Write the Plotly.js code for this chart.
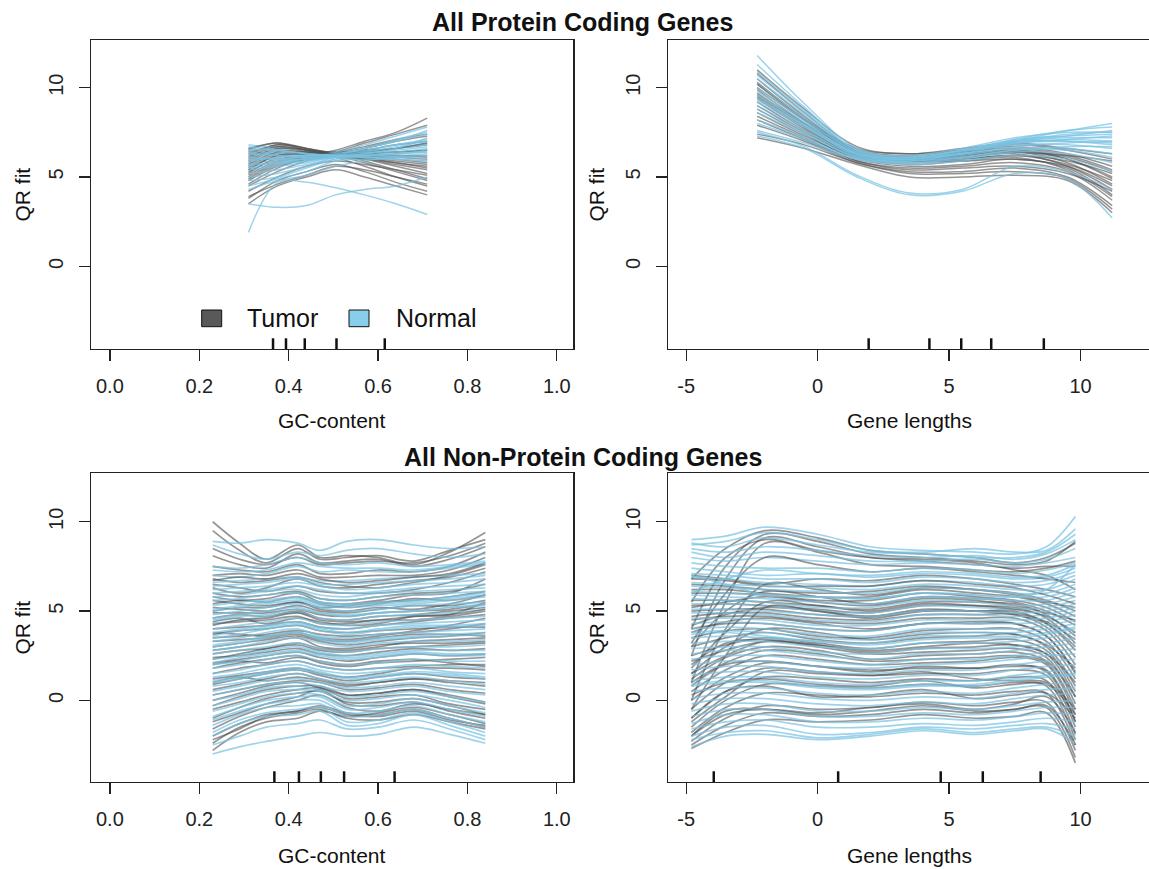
<!DOCTYPE html>
<html>
<head>
<meta charset="utf-8">
<script src="https://cdn.plot.ly/plotly-3.0.1.min.js"></script>
<style>html,body{margin:0;padding:0;background:#fff;}#chart{width:1149px;height:869px;}</style>
</head>
<body>
<div id="chart"></div>
<script>
// ---------------- data ----------------
const groups = ['Tumor', 'Normal'];
const gcTickVals = [0, 0.2, 0.4, 0.6, 0.8, 1.0];
const gcTickText = ['0.0', '0.2', '0.4', '0.6', '0.8', '1.0'];
const lenTickVals = [-5, 0, 5, 10];
const yTickVals = [0, 5, 10];

// Protein coding, GC-content
const pcGcX = [0.31, 0.375, 0.44, 0.505, 0.57, 0.64, 0.71];
const pcGcTumor = [
  [6.5, 6.9, 6.5, 6.3, 6.0, 5.6, 5.2],
  [6.2, 6.8, 6.6, 6.3, 6.1, 5.8, 5.6],
  [6.0, 6.6, 6.4, 6.2, 6.2, 6.1, 6.0],
  [5.8, 6.5, 6.3, 6.2, 6.3, 6.4, 6.5],
  [5.5, 6.2, 6.3, 6.4, 6.7, 7.1, 7.4],
  [5.3, 6.0, 6.2, 6.5, 7.0, 7.5, 8.3],
  [5.0, 5.8, 6.1, 6.4, 6.9, 7.4, 7.9],
  [4.8, 5.6, 6.0, 6.3, 6.5, 6.8, 7.0],
  [4.5, 5.3, 5.9, 6.2, 6.3, 6.4, 6.5],
  [4.2, 5.0, 5.6, 5.9, 5.7, 5.4, 5.1],
  [3.9, 4.6, 5.1, 5.6, 5.4, 5.0, 4.6],
  [3.5, 4.5, 5.0, 5.4, 5.0, 4.5, 4.0],
  [3.8, 4.8, 5.3, 5.7, 5.3, 4.7, 4.2],
  [6.4, 6.7, 6.5, 6.1, 5.6, 5.0, 4.5],
  [5.6, 6.3, 6.4, 6.3, 6.1, 5.9, 5.7],
  [5.2, 6.1, 6.3, 6.3, 6.3, 6.2, 6.1],
  [6.3, 6.8, 6.6, 6.3, 5.9, 5.4, 4.9],
  [5.9, 6.6, 6.5, 6.4, 6.5, 6.6, 6.8],
  [4.6, 5.5, 6.0, 6.1, 6.0, 5.8, 5.5],
  [5.1, 5.9, 6.1, 6.2, 6.2, 6.0, 5.8],
  [4.9, 5.7, 6.0, 6.3, 6.6, 7.0, 7.3],
  [6.6, 6.9, 6.6, 6.2, 5.8, 5.3, 4.8],
  [5.7, 6.4, 6.4, 6.2, 6.0, 5.7, 5.4],
  [6.1, 6.7, 6.5, 6.3, 6.3, 6.2, 6.2],
  [5.4, 6.2, 6.3, 6.3, 6.4, 6.6, 6.9]
];
const pcGcNormal = [
  [6.8, 6.6, 6.3, 6.3, 6.5, 6.8, 7.0],
  [6.6, 6.4, 6.2, 6.3, 6.6, 7.1, 7.5],
  [6.4, 6.3, 6.2, 6.4, 6.8, 7.3, 7.8],
  [6.2, 6.2, 6.1, 6.2, 6.4, 6.6, 6.8],
  [6.0, 6.0, 6.1, 6.3, 6.5, 6.8, 7.1],
  [5.8, 5.9, 6.0, 6.2, 6.3, 6.4, 6.6],
  [5.6, 5.8, 6.0, 6.2, 6.4, 6.6, 6.9],
  [5.4, 5.6, 5.8, 6.1, 6.2, 6.2, 6.3],
  [5.2, 5.4, 5.7, 6.0, 6.1, 6.1, 6.0],
  [5.0, 5.2, 5.6, 6.1, 6.3, 6.6, 7.2],
  [4.8, 5.0, 5.5, 6.0, 6.2, 6.3, 6.4],
  [4.5, 4.9, 5.3, 5.9, 6.0, 6.0, 5.9],
  [1.9, 4.7, 4.7, 4.4, 4.0, 3.5, 2.9],
  [3.5, 3.3, 3.4, 4.0, 4.3, 4.5, 5.0],
  [6.5, 6.5, 6.3, 6.2, 6.2, 6.3, 6.4],
  [6.7, 6.5, 6.3, 6.2, 6.1, 6.0, 5.9],
  [5.9, 6.1, 6.2, 6.3, 6.6, 7.0, 7.4],
  [4.3, 4.8, 5.1, 5.6, 5.9, 6.1, 6.2],
  [5.5, 5.7, 5.9, 6.2, 6.6, 7.0, 7.6],
  [6.1, 6.0, 6.0, 6.1, 6.2, 6.3, 6.5],
  [6.3, 6.2, 6.1, 6.2, 6.4, 6.7, 7.0],
  [5.7, 5.8, 5.9, 6.1, 6.3, 6.5, 6.7]
];
const pcGcRug = [0.365, 0.394, 0.436, 0.507, 0.615];

// Protein coding, gene lengths
const pcLenX = [-2.3, -0.5, 1.5, 3.5, 5.5, 7.5, 9.5, 11.2];
const pcLenTumor = [
  [10.8, 8.6, 6.5, 6.1, 6.3, 6.5, 6.0, 4.9],
  [10.3, 8.3, 6.4, 6.0, 6.2, 6.4, 5.8, 4.6],
  [9.9, 8.0, 6.3, 6.0, 6.1, 6.3, 5.6, 4.3],
  [9.5, 7.8, 6.2, 5.9, 6.0, 6.2, 5.7, 4.8],
  [9.2, 7.6, 6.1, 5.8, 6.0, 6.2, 5.9, 5.2],
  [8.8, 7.4, 6.0, 5.6, 5.7, 6.0, 5.5, 4.0],
  [8.4, 7.2, 5.9, 5.5, 5.6, 5.8, 5.3, 3.7],
  [7.9, 7.0, 5.8, 5.3, 5.3, 5.5, 5.0, 3.4],
  [7.4, 6.8, 5.8, 5.2, 5.2, 5.3, 4.9, 3.2],
  [10.0, 8.2, 6.6, 6.3, 6.5, 6.7, 6.3, 5.6],
  [9.7, 8.0, 6.5, 6.2, 6.5, 6.8, 6.5, 6.0],
  [11.0, 8.8, 6.7, 6.3, 6.6, 6.9, 6.6, 6.3],
  [9.0, 7.5, 6.2, 5.9, 6.1, 6.4, 6.2, 5.9],
  [8.6, 7.3, 6.1, 5.7, 5.9, 6.1, 5.4, 3.9],
  [7.2, 6.6, 5.7, 5.0, 5.0, 5.1, 4.8, 3.0],
  [9.4, 7.7, 6.2, 5.9, 6.2, 6.5, 6.1, 5.3],
  [10.5, 8.4, 6.4, 5.9, 5.9, 6.0, 5.6, 4.5],
  [8.2, 7.1, 5.9, 5.4, 5.5, 5.6, 5.2, 4.2],
  [9.6, 7.9, 6.3, 6.0, 6.2, 6.4, 6.0, 5.0],
  [10.2, 8.2, 6.4, 6.1, 6.4, 6.6, 6.2, 5.4]
];
const pcLenNormal = [
  [11.8, 9.1, 6.6, 6.1, 6.4, 7.0, 7.6, 8.0],
  [11.3, 8.9, 6.5, 6.1, 6.4, 7.1, 7.6, 7.8],
  [10.7, 8.6, 6.5, 6.2, 6.6, 7.2, 7.5, 7.5],
  [10.2, 8.3, 6.4, 6.1, 6.5, 7.0, 7.2, 7.2],
  [9.8, 8.1, 6.3, 6.0, 6.4, 6.9, 7.0, 6.9],
  [9.4, 7.9, 6.2, 6.0, 6.3, 6.8, 6.8, 6.6],
  [9.0, 7.6, 6.2, 5.9, 6.2, 6.6, 6.6, 6.3],
  [8.6, 7.4, 6.1, 5.8, 6.1, 6.5, 6.5, 6.1],
  [8.2, 7.2, 6.0, 5.8, 6.0, 6.4, 6.3, 5.8],
  [7.6, 6.9, 6.0, 5.9, 6.1, 6.5, 6.7, 6.7],
  [7.3, 6.6, 5.0, 4.0, 4.2, 5.2, 4.9, 2.7],
  [7.5, 6.7, 5.1, 4.1, 4.3, 5.6, 5.3, 4.3],
  [9.6, 8.0, 6.3, 6.0, 6.5, 7.1, 7.3, 7.4],
  [10.5, 8.5, 6.4, 6.0, 6.3, 6.7, 6.9, 7.0],
  [8.8, 7.5, 6.1, 5.9, 6.3, 6.9, 7.1, 7.3],
  [9.2, 7.8, 6.3, 6.1, 6.5, 7.0, 7.3, 7.6],
  [8.0, 7.1, 6.0, 5.7, 5.9, 6.2, 6.0, 5.3],
  [10.0, 8.2, 6.4, 6.1, 6.5, 7.0, 7.0, 6.8],
  [9.3, 7.9, 6.3, 6.0, 6.4, 6.9, 7.1, 7.0],
  [10.9, 8.7, 6.5, 6.1, 6.5, 7.0, 7.4, 7.5]
];
const pcLenRug = [1.94, 4.25, 5.46, 6.6, 8.6];

// Non-protein coding, GC-content
const ncGcX = [0.23, 0.29, 0.35, 0.42, 0.47, 0.53, 0.60, 0.68, 0.76, 0.84];
const ncGcTumor = [
  [10.0, 8.8, 7.9, 8.7, 8.0, 8.1, 8.0, 7.6, 8.3, 9.4],
  [9.5, 8.4, 7.7, 8.5, 7.9, 8.0, 8.1, 7.8, 8.4, 9.0],
  [8.1, 7.6, 7.4, 8.2, 7.7, 7.8, 7.9, 7.5, 7.9, 8.6],
  [7.0, 7.1, 7.0, 7.3, 6.9, 6.9, 7.0, 7.0, 7.3, 8.0],
  [6.8, 6.6, 6.7, 6.9, 6.6, 6.4, 6.3, 6.6, 7.0, 7.6],
  [6.5, 6.3, 6.1, 6.4, 6.1, 6.0, 6.0, 6.2, 6.6, 7.2],
  [6.0, 5.8, 5.9, 6.1, 5.7, 5.6, 5.8, 6.0, 6.1, 6.5],
  [5.6, 5.4, 5.3, 5.5, 5.2, 5.3, 5.5, 5.6, 5.8, 6.1],
  [5.2, 5.1, 5.0, 5.3, 5.0, 4.9, 5.1, 5.3, 5.3, 5.6],
  [4.6, 4.8, 4.7, 5.0, 4.6, 4.5, 4.7, 4.8, 5.0, 5.2],
  [4.0, 4.1, 4.2, 4.4, 4.1, 4.0, 4.2, 4.4, 4.6, 4.8],
  [3.5, 3.6, 3.7, 3.9, 3.7, 3.6, 3.7, 3.8, 4.0, 4.3],
  [3.0, 3.2, 3.4, 3.6, 3.3, 3.1, 3.3, 3.5, 3.6, 3.8],
  [2.6, 2.8, 2.9, 3.1, 2.8, 2.7, 2.9, 3.0, 3.1, 3.2],
  [2.1, 2.3, 2.5, 2.7, 2.4, 2.2, 2.4, 2.6, 2.5, 2.6],
  [1.5, 1.8, 2.0, 2.2, 1.9, 1.7, 1.8, 1.9, 2.0, 2.0],
  [0.9, 1.2, 1.5, 1.7, 1.4, 1.1, 1.3, 1.5, 1.3, 1.2],
  [0.3, 0.6, 0.9, 1.1, 1.0, 0.6, 0.7, 0.9, 0.6, 0.4],
  [-0.5, -0.1, 0.3, 0.6, 0.7, 0.1, 0.2, 0.3, -0.2, -0.5],
  [-1.2, -0.7, -0.2, 0.2, 0.6, -0.2, -0.3, -0.1, -0.6, -1.0],
  [-2.0, -1.3, -0.8, -0.6, -0.3, -0.7, -0.8, -0.5, -1.0, -1.5],
  [-2.8, -1.8, -1.2, -1.0, -0.6, -0.9, -0.7, -0.4, -0.8, -1.3],
  [5.4, 5.6, 5.5, 5.8, 5.4, 5.2, 5.4, 5.7, 5.6, 5.9],
  [4.3, 4.4, 4.5, 4.7, 4.3, 4.3, 4.5, 4.5, 4.7, 5.0],
  [2.3, 2.6, 2.9, 3.2, 2.9, 2.8, 3.0, 3.3, 3.4, 3.5],
  [3.8, 3.7, 3.6, 3.8, 3.5, 3.4, 3.6, 3.9, 4.2, 4.6],
  [1.2, 1.4, 1.6, 1.8, 1.5, 1.3, 1.5, 1.8, 1.8, 1.7],
  [-1.6, -0.9, -0.4, 0.0, 0.3, -0.4, -0.6, -0.2, -0.5, -0.8],
  [6.3, 6.0, 6.3, 6.8, 6.4, 6.3, 6.5, 6.7, 6.9, 7.4],
  [8.5, 7.9, 7.6, 8.0, 7.6, 7.7, 7.8, 7.7, 8.1, 8.8],
  [0.0, 0.4, 0.8, 1.0, 0.7, 0.3, 0.4, 0.6, 0.3, -0.1],
  [2.8, 3.0, 3.2, 3.5, 3.0, 2.9, 3.1, 3.2, 3.2, 3.3],
  [4.9, 4.9, 4.9, 5.1, 4.8, 4.7, 4.9, 5.0, 5.1, 5.4],
  [-2.4, -1.5, -1.0, -0.7, -0.5, -1.0, -1.1, -0.8, -1.2, -1.6],
  [7.5, 7.3, 7.2, 7.6, 7.1, 7.1, 7.3, 7.2, 7.5, 8.3],
  [5.8, 5.6, 5.7, 6.0, 5.5, 5.4, 5.6, 5.9, 6.0, 6.8],
  [5.0, 5.2, 5.2, 5.5, 5.1, 5.0, 5.2, 5.1, 5.4, 5.9],
  [4.4, 4.6, 4.3, 4.6, 4.4, 4.2, 4.3, 4.7, 4.8, 5.5],
  [3.7, 3.9, 4.0, 4.2, 3.9, 3.8, 3.9, 4.0, 4.1, 4.1],
  [3.3, 3.4, 3.5, 3.7, 3.4, 3.3, 3.5, 3.7, 3.7, 3.6],
  [2.4, 2.5, 2.7, 2.9, 2.6, 2.5, 2.7, 2.9, 2.8, 2.9],
  [1.8, 2.1, 2.3, 2.5, 2.1, 1.9, 2.1, 2.2, 2.3, 2.4],
  [0.6, 0.9, 1.2, 1.5, 1.2, 0.9, 1.0, 1.2, 1.0, 0.8],
  [-0.3, 0.2, 0.6, 0.8, 0.8, 0.3, 0.4, 0.6, 0.2, -0.2],
  [-1.0, -0.4, 0.1, 0.4, 0.5, -0.1, -0.1, 0.1, -0.3, -0.8],
  [-2.2, -1.6, -0.9, -0.6, -0.4, -0.8, -0.9, -0.6, -1.1, -1.4],
  [6.7, 6.9, 6.8, 7.1, 6.8, 6.6, 6.7, 6.9, 7.1, 7.7],
  [2.0, 2.2, 2.1, 2.4, 2.2, 2.0, 2.2, 2.3, 2.1, 1.9],
  [4.2, 4.5, 4.6, 4.9, 4.5, 4.4, 4.5, 4.7, 4.8, 5.1],
  [1.0, 1.3, 1.1, 1.3, 1.1, 0.8, 1.0, 1.2, 1.1, 1.0]
];
const ncGcNormal = [
  [8.9, 8.8, 9.0, 8.8, 8.4, 8.9, 9.0, 8.7, 8.5, 8.6],
  [8.7, 8.2, 7.9, 8.3, 8.1, 8.4, 8.5, 8.2, 8.0, 8.2],
  [7.0, 6.9, 7.1, 7.5, 7.2, 7.3, 7.2, 7.2, 7.4, 7.6],
  [6.6, 6.7, 6.8, 6.9, 6.7, 6.7, 6.8, 6.9, 7.0, 7.1],
  [6.2, 6.3, 6.4, 6.6, 6.4, 6.2, 6.3, 6.5, 6.6, 6.8],
  [5.8, 5.9, 6.1, 6.2, 5.9, 5.8, 6.0, 6.1, 6.2, 6.3],
  [5.3, 5.5, 5.6, 5.8, 5.5, 5.4, 5.5, 5.6, 5.8, 6.0],
  [4.8, 5.0, 5.2, 5.4, 5.2, 5.0, 5.1, 5.3, 5.4, 5.5],
  [4.3, 4.5, 4.7, 4.9, 4.6, 4.5, 4.7, 4.8, 4.9, 5.1],
  [3.8, 4.0, 4.2, 4.4, 4.1, 4.0, 4.2, 4.3, 4.4, 4.5],
  [3.3, 3.5, 3.8, 4.0, 3.6, 3.5, 3.7, 3.8, 3.9, 4.0],
  [2.8, 3.0, 3.3, 3.5, 3.2, 3.0, 3.2, 3.3, 3.3, 3.4],
  [2.3, 2.5, 2.8, 3.0, 2.7, 2.5, 2.6, 2.8, 2.8, 2.8],
  [1.8, 2.0, 2.3, 2.5, 2.2, 2.0, 2.1, 2.3, 2.2, 2.2],
  [1.3, 1.5, 1.8, 2.0, 1.7, 1.5, 1.6, 1.8, 1.6, 1.5],
  [0.8, 1.0, 1.3, 1.5, 1.2, 1.0, 1.1, 1.3, 1.1, 0.9],
  [0.3, 0.6, 0.9, 1.0, 0.8, 0.5, 0.6, 0.8, 0.5, 0.3],
  [-0.3, 0.1, 0.5, 0.6, 0.5, 0.0, 0.1, 0.3, 0.0, -0.4],
  [-0.9, -0.4, 0.0, 0.2, 0.2, -0.5, -0.4, -0.1, -0.5, -0.9],
  [-1.4, -0.8, -0.4, -0.3, -0.2, -0.9, -0.8, -0.5, -1.0, -1.5],
  [-2.0, -1.3, -0.9, -0.8, -0.6, -1.4, -1.3, -0.8, -1.4, -2.0],
  [-3.0, -2.6, -2.3, -2.0, -1.8, -2.0, -1.9, -1.5, -1.9, -2.4],
  [4.5, 4.7, 4.8, 5.1, 4.9, 4.8, 4.9, 5.0, 5.2, 5.3],
  [3.5, 3.7, 4.0, 4.2, 3.9, 3.7, 3.9, 4.1, 4.1, 4.2],
  [2.0, 2.2, 2.5, 2.7, 2.5, 2.3, 2.4, 2.6, 2.5, 2.5],
  [1.0, 1.2, 1.5, 1.7, 1.5, 1.2, 1.3, 1.5, 1.4, 1.2],
  [6.0, 6.1, 6.2, 6.4, 6.2, 6.0, 6.1, 6.3, 6.4, 6.5],
  [5.0, 5.2, 5.4, 5.6, 5.3, 5.2, 5.3, 5.4, 5.6, 5.8],
  [0.0, 0.3, 0.7, 0.8, 0.6, 0.2, 0.3, 0.5, 0.2, -0.1],
  [-1.8, -1.1, -0.7, -0.5, -0.4, -1.2, -1.1, -0.7, -1.2, -1.8],
  [7.5, 7.4, 7.6, 8.0, 7.7, 7.6, 7.7, 7.5, 7.6, 7.8],
  [3.0, 3.2, 3.5, 3.8, 3.4, 3.2, 3.4, 3.5, 3.6, 3.7],
  [7.3, 7.2, 7.3, 7.7, 7.5, 7.4, 7.4, 7.3, 7.5, 7.7],
  [6.4, 6.5, 6.6, 6.8, 6.5, 6.5, 6.6, 6.7, 6.8, 7.0],
  [5.6, 5.7, 5.9, 6.0, 5.7, 5.6, 5.8, 5.9, 6.0, 6.1],
  [4.6, 4.8, 5.0, 5.2, 4.9, 4.7, 4.9, 5.0, 5.2, 5.4],
  [4.0, 4.2, 4.4, 4.6, 4.3, 4.2, 4.4, 4.5, 4.6, 4.7],
  [3.1, 3.3, 3.6, 3.8, 3.5, 3.3, 3.5, 3.6, 3.7, 3.8],
  [2.6, 2.8, 3.0, 3.2, 2.9, 2.7, 2.9, 3.0, 3.0, 3.1],
  [1.5, 1.7, 2.0, 2.2, 1.9, 1.7, 1.8, 2.0, 1.9, 1.8],
  [0.5, 0.8, 1.1, 1.2, 1.0, 0.7, 0.8, 1.0, 0.8, 0.6],
  [-0.6, -0.2, 0.2, 0.4, 0.3, -0.3, -0.2, 0.1, -0.3, -0.7],
  [-1.1, -0.6, -0.2, 0.0, 0.0, -0.7, -0.6, -0.3, -0.8, -1.2],
  [-2.5, -2.0, -1.5, -1.3, -1.1, -1.6, -1.5, -1.1, -1.6, -2.2],
  [2.1, 2.4, 2.6, 2.8, 2.6, 2.4, 2.5, 2.7, 2.6, 2.6],
  [3.6, 3.9, 4.1, 4.3, 4.0, 3.8, 4.0, 4.2, 4.2, 4.3],
  [5.1, 5.3, 5.5, 5.7, 5.4, 5.3, 5.4, 5.5, 5.7, 5.9],
  [1.1, 1.3, 1.6, 1.8, 1.6, 1.3, 1.4, 1.6, 1.5, 1.3]
];
const ncGcRug = [0.368, 0.423, 0.472, 0.524, 0.637];

// Non-protein coding, gene lengths
const ncLenX = [-4.8, -3.5, -2.0, 0.0, 2.0, 4.0, 6.0, 7.5, 8.7, 9.8];
const ncLenTumor = [
  [4.0, 7.5, 9.3, 8.9, 8.2, 8.0, 7.8, 7.6, 7.8, 8.9],
  [2.5, 6.8, 9.1, 8.6, 8.0, 7.8, 7.6, 7.4, 7.5, 7.5],
  [5.5, 8.0, 9.0, 8.4, 8.0, 7.9, 7.7, 7.3, 7.0, 6.2],
  [1.0, 5.5, 8.8, 8.3, 7.6, 7.5, 7.3, 7.2, 7.4, 7.8],
  [7.0, 6.8, 6.5, 6.8, 6.7, 7.0, 6.8, 6.5, 6.2, 5.8],
  [6.5, 6.4, 6.2, 6.0, 6.1, 6.4, 6.2, 6.0, 5.6, 5.0],
  [6.0, 6.0, 5.9, 5.6, 5.6, 6.0, 5.8, 5.6, 5.2, 4.4],
  [5.6, 5.6, 5.5, 5.3, 5.1, 5.5, 5.5, 5.4, 4.8, 3.6],
  [5.0, 5.1, 5.1, 4.8, 4.7, 5.1, 5.0, 5.0, 4.3, 2.8],
  [4.5, 4.7, 4.7, 4.4, 4.3, 4.6, 4.6, 4.6, 3.9, 2.0],
  [3.5, 3.9, 4.0, 3.6, 3.5, 3.9, 4.0, 4.0, 3.3, 1.2],
  [2.5, 3.1, 3.5, 3.2, 2.9, 3.2, 3.3, 3.4, 2.8, 0.5],
  [1.5, 2.5, 3.3, 3.0, 2.6, 2.7, 2.8, 2.9, 2.4, -0.2],
  [0.5, 1.7, 2.5, 2.3, 2.0, 2.1, 2.2, 2.4, 2.0, -0.8],
  [-0.5, 1.0, 1.8, 1.6, 1.4, 1.5, 1.5, 1.7, 1.4, -1.5],
  [-1.5, 0.0, 0.9, 0.8, 0.7, 0.9, 0.8, 1.0, 0.8, -2.2],
  [-2.3, -1.0, -0.3, -0.5, -0.4, -0.1, -0.3, -0.1, -0.1, -2.8],
  [-2.7, -1.8, -1.1, -1.2, -1.1, -0.8, -1.0, -0.9, -0.7, -3.5],
  [-2.0, -0.6, -0.5, -0.8, -0.6, -0.3, -0.6, -0.5, -0.3, -2.5],
  [2.0, 3.2, 3.4, 3.1, 2.8, 3.0, 3.2, 3.1, 2.6, 1.0],
  [3.0, 5.0, 6.1, 5.8, 5.4, 5.8, 5.7, 5.5, 5.0, 4.2],
  [0.0, 4.0, 6.5, 6.2, 5.9, 6.3, 6.2, 5.9, 5.5, 5.2],
  [-1.0, 0.5, 0.8, 0.2, 0.3, 0.6, 0.1, 0.3, 0.4, -1.0],
  [1.2, 2.4, 3.0, 2.8, 2.3, 2.5, 2.6, 2.7, 2.2, 0.2],
  [-2.0, -0.8, -0.5, -0.7, -0.4, -0.2, -0.5, -0.2, 0.2, -1.8],
  [1.5, 3.0, 4.0, 3.8, 3.4, 3.7, 3.8, 3.7, 3.1, 1.8],
  [6.8, 8.5, 9.5, 9.1, 8.4, 8.2, 8.0, 7.7, 8.0, 8.8],
  [3.8, 4.4, 4.6, 4.3, 4.0, 4.3, 4.4, 4.3, 3.6, 1.5],
  [-1.2, 0.2, 1.6, 1.5, 1.4, 1.6, 1.2, 1.1, 1.0, -0.5],
  [4.2, 4.8, 5.2, 5.0, 4.6, 5.0, 5.0, 4.8, 4.3, 3.0],
  [0.8, 2.0, 2.2, 1.9, 1.6, 1.9, 1.8, 1.9, 1.7, -1.2],
  [5.2, 5.5, 5.8, 5.5, 5.3, 5.7, 5.6, 5.3, 4.9, 4.5],
  [6.2, 6.2, 6.0, 5.8, 5.8, 6.2, 6.0, 5.8, 5.4, 4.7],
  [5.3, 5.4, 5.3, 5.1, 4.9, 5.3, 5.3, 5.2, 4.6, 3.2],
  [4.7, 4.9, 4.9, 4.6, 4.5, 4.8, 4.8, 4.8, 4.1, 2.4],
  [4.0, 4.3, 4.3, 4.0, 3.9, 4.3, 4.3, 4.3, 3.6, 1.6],
  [3.0, 3.5, 3.8, 3.4, 3.2, 3.5, 3.6, 3.7, 3.0, 0.8],
  [2.2, 2.8, 3.3, 3.1, 2.7, 2.9, 3.0, 3.1, 2.6, 0.2],
  [1.0, 2.1, 2.8, 2.6, 2.2, 2.3, 2.4, 2.5, 2.1, -0.5],
  [0.0, 1.3, 2.1, 1.9, 1.7, 1.8, 1.8, 2.0, 1.6, -1.2],
  [-1.0, 0.5, 1.3, 1.2, 1.0, 1.2, 1.1, 1.3, 1.1, -1.9],
  [-1.8, -0.4, 0.4, 0.3, 0.2, 0.4, 0.3, 0.5, 0.4, -2.5],
  [-2.5, -1.4, -0.7, -0.9, -0.8, -0.5, -0.7, -0.5, -0.4, -3.2],
  [-0.5, 2.5, 5.2, 5.0, 4.7, 5.0, 5.0, 4.9, 4.4, 3.4],
  [3.2, 6.0, 8.0, 7.6, 7.2, 7.4, 7.2, 7.0, 6.8, 6.6],
  [1.8, 3.8, 5.5, 5.3, 5.0, 5.4, 5.3, 5.1, 4.7, 3.8],
  [6.8, 6.7, 6.4, 6.4, 6.4, 6.7, 6.5, 6.3, 5.9, 5.4],
  [0.3, 1.0, 1.2, 0.9, 0.8, 1.1, 0.7, 0.9, 0.9, -0.8]
];
const ncLenNormal = [
  [9.0, 9.2, 9.7, 9.3, 8.6, 8.4, 8.3, 8.2, 8.6, 10.3],
  [8.7, 8.9, 9.4, 9.0, 8.4, 8.3, 8.5, 8.3, 8.4, 9.6],
  [8.5, 8.3, 8.6, 8.4, 8.1, 8.0, 8.1, 7.9, 8.2, 9.0],
  [8.0, 7.8, 8.0, 7.8, 7.6, 7.7, 7.6, 7.5, 7.7, 8.0],
  [7.4, 7.2, 7.0, 7.1, 6.9, 7.1, 7.0, 6.8, 6.9, 7.4],
  [6.9, 6.8, 6.6, 6.5, 6.4, 6.7, 6.6, 6.4, 6.5, 7.0],
  [6.4, 6.3, 6.2, 6.1, 6.0, 6.3, 6.2, 6.0, 6.0, 6.5],
  [5.9, 5.8, 5.7, 5.5, 5.4, 5.8, 5.7, 5.6, 5.6, 6.1],
  [5.4, 5.4, 5.3, 5.0, 4.9, 5.3, 5.2, 5.1, 5.2, 5.6],
  [4.9, 4.9, 4.8, 4.5, 4.4, 4.8, 4.8, 4.7, 4.8, 5.2],
  [4.3, 4.4, 4.3, 4.0, 3.9, 4.3, 4.3, 4.3, 4.4, 4.8],
  [3.8, 3.9, 3.8, 3.5, 3.4, 3.8, 3.8, 3.8, 4.0, 4.3],
  [3.2, 3.3, 3.3, 3.0, 2.9, 3.2, 3.2, 3.3, 3.5, 3.8],
  [2.6, 2.8, 2.8, 2.5, 2.3, 2.6, 2.6, 2.8, 3.0, 3.2],
  [2.0, 2.2, 2.2, 1.9, 1.8, 2.0, 2.1, 2.3, 2.5, 2.6],
  [1.4, 1.6, 1.6, 1.3, 1.2, 1.4, 1.4, 1.7, 1.9, 2.0],
  [0.8, 1.0, 1.0, 0.7, 0.6, 0.8, 0.8, 1.1, 1.3, 1.4],
  [0.1, 0.4, 0.4, 0.1, 0.0, 0.2, 0.1, 0.4, 0.6, 0.7],
  [-0.6, -0.2, -0.2, -0.6, -0.6, -0.4, -0.5, -0.3, -0.1, 0.0],
  [-1.3, -0.8, -0.8, -1.2, -1.2, -1.0, -1.1, -0.9, -0.7, -0.8],
  [-2.0, -1.5, -1.4, -1.9, -1.8, -1.5, -1.6, -1.4, -1.3, -1.6],
  [-2.6, -2.0, -1.9, -2.2, -2.0, -1.7, -1.9, -1.7, -1.6, -2.4],
  [7.0, 6.5, 5.9, 5.8, 5.7, 6.0, 5.9, 5.8, 6.2, 7.6],
  [4.6, 4.6, 4.5, 4.2, 4.2, 4.5, 4.5, 4.5, 4.6, 5.0],
  [3.5, 3.6, 3.5, 3.3, 3.1, 3.4, 3.5, 3.5, 3.7, 4.0],
  [2.3, 2.5, 2.5, 2.2, 2.0, 2.3, 2.3, 2.5, 2.7, 2.9],
  [1.1, 1.3, 1.3, 1.0, 0.9, 1.1, 1.1, 1.4, 1.6, 1.7],
  [-0.2, 0.1, 0.1, -0.2, -0.3, -0.1, -0.2, 0.1, 0.3, 0.4],
  [5.7, 5.6, 5.5, 5.2, 5.2, 5.6, 5.5, 5.3, 5.4, 5.8],
  [8.8, 8.6, 9.1, 8.7, 8.3, 8.2, 8.0, 8.0, 8.3, 9.3],
  [8.3, 8.0, 8.3, 8.1, 7.8, 7.8, 7.9, 7.7, 7.9, 8.5],
  [7.7, 7.5, 7.4, 7.4, 7.2, 7.4, 7.3, 7.1, 7.3, 7.7],
  [7.1, 7.0, 6.8, 6.8, 6.6, 6.9, 6.8, 6.6, 6.7, 7.2],
  [6.6, 6.5, 6.4, 6.3, 6.2, 6.5, 6.4, 6.2, 6.2, 6.8],
  [6.1, 6.0, 5.9, 5.8, 5.7, 6.0, 5.9, 5.8, 5.8, 6.3],
  [5.1, 5.1, 5.0, 4.8, 4.7, 5.0, 5.0, 4.9, 5.0, 5.4],
  [4.0, 4.1, 4.0, 3.7, 3.6, 4.0, 4.0, 4.0, 4.2, 4.5],
  [2.9, 3.0, 3.0, 2.7, 2.6, 2.9, 2.9, 3.0, 3.2, 3.5],
  [1.7, 1.9, 1.9, 1.6, 1.5, 1.7, 1.7, 2.0, 2.2, 2.3],
  [0.5, 0.7, 0.7, 0.4, 0.3, 0.5, 0.4, 0.7, 0.9, 1.0],
  [-0.9, -0.5, -0.5, -0.9, -0.9, -0.7, -0.8, -0.6, -0.4, -0.4],
  [-1.6, -1.2, -1.1, -1.5, -1.5, -1.3, -1.4, -1.2, -1.0, -1.2],
  [6.0, 6.8, 7.3, 7.1, 7.0, 7.2, 7.1, 6.9, 7.0, 7.6],
  [3.7, 3.8, 3.6, 3.3, 3.2, 3.6, 3.6, 3.6, 3.8, 4.1],
  [0.9, 1.1, 1.1, 0.8, 0.7, 0.9, 0.9, 1.2, 1.4, 1.5],
  [-2.2, -1.8, -1.7, -2.1, -1.9, -1.6, -1.8, -1.6, -1.5, -2.0]
];
const ncLenRug = [-3.95, 0.78, 4.68, 6.28, 8.48];

// ---------------- style ----------------
const FONT = 'Liberation Sans, Arial, Helvetica, sans-serif';
const tumorLine = 'rgba(78,78,78,0.6)';
const normalLine = 'rgba(120,194,226,0.72)';
const tumorFill = '#595959';
const normalFill = '#87CEEB';
const gcRange = [-0.0423, 1.0371];
const lenRange = [-5.69, 12.6];
const yRangeTop = [-4.63, 12.67];
const yRangeBot = [-4.57, 12.73];
const rugLen = 0.6;

const traces = [];
function addPanel(xs, tumor, normal, rug, xa, ya, yBottom, lw) {
  // tumour curves first, normal curves drawn over them (interleaving the last third)
  const split = Math.floor(tumor.length * 0.7);
  for (let i = 0; i < split; i++) {
    traces.push({type: 'scatter', mode: 'lines', x: xs, y: tumor[i], xaxis: xa, yaxis: ya,
      line: {color: tumorLine, width: lw, shape: 'spline', smoothing: 1}, hoverinfo: 'skip', showlegend: false});
  }
  const n = Math.max(tumor.length - split, normal.length);
  for (let i = 0; i < n; i++) {
    if (i < normal.length) {
      traces.push({type: 'scatter', mode: 'lines', x: xs, y: normal[i], xaxis: xa, yaxis: ya,
        line: {color: normalLine, width: lw, shape: 'spline', smoothing: 1}, hoverinfo: 'skip', showlegend: false});
    }
    if (split + i < tumor.length) {
      traces.push({type: 'scatter', mode: 'lines', x: xs, y: tumor[split + i], xaxis: xa, yaxis: ya,
        line: {color: tumorLine, width: lw, shape: 'spline', smoothing: 1}, hoverinfo: 'skip', showlegend: false});
    }
  }
  const rx = [], ry = [];
  rug.forEach(v => { rx.push(v, v, null); ry.push(yBottom, yBottom + rugLen, null); });
  traces.push({type: 'scatter', mode: 'lines', x: rx, y: ry, xaxis: xa, yaxis: ya,
    line: {color: '#111', width: 2.5}, hoverinfo: 'skip', showlegend: false, cliponaxis: false});
}
addPanel(pcGcX, pcGcTumor, pcGcNormal, pcGcRug, 'x', 'y', yRangeTop[0], 1.5);
addPanel(pcLenX, pcLenTumor, pcLenNormal, pcLenRug, 'x2', 'y2', yRangeTop[0], 1.5);
addPanel(ncGcX, ncGcTumor, ncGcNormal, ncGcRug, 'x3', 'y3', yRangeBot[0], 1.7);
addPanel(ncLenX, ncLenTumor, ncLenNormal, ncLenRug, 'x4', 'y4', yRangeBot[0], 1.7);

const axisBase = {
  showline: true, mirror: true, linecolor: '#222', linewidth: 1.3,
  ticks: 'outside', ticklen: 11, tickwidth: 1.3, tickcolor: '#222',
  showgrid: false, zeroline: false, fixedrange: true,
  tickfont: {family: FONT, size: 20, color: '#222'}
};
function xAxis(domain, range, isGc, anchor) {
  return Object.assign({}, axisBase, {domain: domain, range: range, anchor: anchor,
    tickvals: isGc ? gcTickVals : lenTickVals,
    ticktext: isGc ? gcTickText : lenTickVals.map(String),
    ticklabelstandoff: 8});
}
function yAxis(domain, range, anchor) {
  return Object.assign({}, axisBase, {domain: domain, range: range, anchor: anchor,
    tickvals: yTickVals, ticktext: yTickVals.map(String), tickangle: -90, ticklabelstandoff: 8});
}
const dL = [91 / 1149, 573.4 / 1149];
const dR = [668 / 1149, 1.0];
const dT = [1 - 349 / 869, 1 - 40 / 869];
const dB = [1 - 782 / 869, 1 - 473 / 869];

const px = v => v / 1149;
const py = v => 1 - v / 869;
function ann(text, x, y, size, opts) {
  return Object.assign({text: text, x: px(x), y: py(y), xref: 'paper', yref: 'paper', showarrow: false,
    xanchor: 'center', yanchor: 'middle', font: {family: FONT, size: size, color: '#111'}}, opts || {});
}

const layout = {
  width: 1149, height: 869,
  margin: {l: 0, r: 0, t: 0, b: 0},
  paper_bgcolor: '#fff', plot_bgcolor: '#fff',
  showlegend: false,
  xaxis: xAxis(dL, gcRange, true, 'y'),
  yaxis: yAxis(dT, yRangeTop, 'x'),
  xaxis2: xAxis(dR, lenRange, false, 'y2'),
  yaxis2: yAxis(dT, yRangeTop, 'x2'),
  xaxis3: xAxis(dL, gcRange, true, 'y3'),
  yaxis3: yAxis(dB, yRangeBot, 'x3'),
  xaxis4: xAxis(dR, lenRange, false, 'y4'),
  yaxis4: yAxis(dB, yRangeBot, 'x4'),
  annotations: [
    ann('<b>All Protein Coding Genes</b>', 582.5, 22, 25),
    ann('<b>All Non-Protein Coding Genes</b>', 582.5, 457, 25),
    ann('GC-content', 331.5, 421, 21),
    ann('Gene lengths', 909.5, 421, 21),
    ann('GC-content', 331.5, 855, 21),
    ann('Gene lengths', 909.5, 855, 21),
    ann('QR fit', 22, 194.5, 21, {textangle: -90}),
    ann('QR fit', 596, 194.5, 21, {textangle: -90}),
    ann('QR fit', 22, 627.5, 21, {textangle: -90}),
    ann('QR fit', 596, 627.5, 21, {textangle: -90}),
    ann(groups[0], 245, 318, 25, {xanchor: 'left'}),
    ann(groups[1], 394, 318, 25, {xanchor: 'left'})
  ],
  shapes: [
    {type: 'rect', xref: 'paper', yref: 'paper', x0: px(201.7), x1: px(221.7), y0: py(326.7), y1: py(310),
      fillcolor: tumorFill, line: {color: '#111', width: 1}},
    {type: 'rect', xref: 'paper', yref: 'paper', x0: px(349), x1: px(369), y0: py(326.7), y1: py(310),
      fillcolor: normalFill, line: {color: '#111', width: 1}}
  ]
};

Plotly.newPlot('chart', traces, layout, {staticPlot: true, displayModeBar: false});
</script>
</body>
</html>
